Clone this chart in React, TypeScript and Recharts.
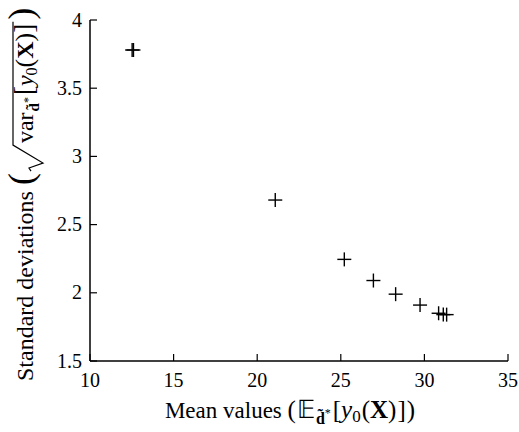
import React from 'react';
import { ScatterChart, Scatter, XAxis, YAxis, Label } from 'recharts';

const meanValues = [12.52, 12.6, 21.08, 25.21, 26.95, 28.28, 29.74, 30.85, 31.13, 31.33];
const stdDeviations = [3.78, 3.78, 2.68, 2.245, 2.09, 1.99, 1.91, 1.85, 1.84, 1.84];
const xTicks = [10, 15, 20, 25, 30, 35];
const yTicks = [1.5, 2, 2.5, 3, 3.5, 4];

const points = meanValues.map((x, i) => ({ x, y: stdDeviations[i] }));

const FAMILY = 'Liberation Serif';
const TICK = 7;

// measuring text pieces so the math labels can be laid out by hand
const ctx = typeof document !== 'undefined' ? document.createElement('canvas').getContext('2d') : null;

type Piece = { t: string; size: number; bold?: boolean; italic?: boolean; dv?: number; gap?: number };

const measure = (p: Piece) => {
  if (!ctx) return p.t.length * p.size * 0.5;
  ctx.font = `${p.italic ? 'italic ' : ''}${p.bold ? 'bold ' : ''}${p.size}px "${FAMILY}"`;
  return ctx.measureText(p.t).width;
};

const layout = (pieces: Piece[], start: number) => {
  let u = start;
  const els = pieces.map((p, i) => {
    u += p.gap || 0;
    const el = (
      <text
        key={i}
        x={u}
        y={p.dv || 0}
        fontSize={p.size}
        fontWeight={p.bold ? 'bold' : 'normal'}
        fontStyle={p.italic ? 'italic' : 'normal'}
        fill="#000"
        style={{ fontFamily: FAMILY, whiteSpace: 'pre' }}
      >
        {p.t}
      </text>
    );
    u += measure(p);
    return el;
  });
  return { els, end: u };
};

const width = (pieces: Piece[]) => pieces.reduce((s, p) => s + (p.gap || 0) + measure(p), 0);

const Plus = (props: any) => {
  const { cx, cy } = props;
  if (cx == null || cy == null) return null;
  return (
    <g stroke="#000" strokeWidth={1.4}>
      <line x1={cx - 7} y1={cy} x2={cx + 7} y2={cy} />
      <line x1={cx} y1={cy - 7} x2={cx} y2={cy + 7} />
    </g>
  );
};

const BottomTick = (props: any) => {
  const { x, y, payload } = props;
  return (
    <g>
      <line x1={x} y1={y} x2={x} y2={y - TICK} stroke="#000" strokeWidth={1.2} />
      <text x={x} y={y + 26} textAnchor="middle" fontSize={20} fill="#000" style={{ fontFamily: FAMILY }}>
        {payload.value}
      </text>
    </g>
  );
};

const LeftTick = (props: any) => {
  const { x, y, payload } = props;
  return (
    <g>
      <line x1={x} y1={y} x2={x + TICK} y2={y} stroke="#000" strokeWidth={1.2} />
      <text x={x - 8} y={y + 6.5} textAnchor="end" fontSize={20} fill="#000" style={{ fontFamily: FAMILY }}>
        {payload.value}
      </text>
    </g>
  );
};

const TopTick = (props: any) => {
  const { x, y } = props;
  return <line x1={x} y1={y} x2={x} y2={y + TICK} stroke="#000" strokeWidth={1.2} />;
};

const RightTick = (props: any) => {
  const { x, y } = props;
  return <line x1={x} y1={y} x2={x - TICK} y2={y} stroke="#000" strokeWidth={1.2} />;
};

const xLabelPieces: Piece[] = [
  { t: 'Mean values ', size: 23 },
  { t: '(', size: 25 },
  { t: '𝔼', size: 25, gap: 1 },
  { t: 'd̃', size: 16, bold: true, dv: 6, gap: 1 },
  { t: '*', size: 12, dv: -1 },
  { t: '[', size: 25, gap: 2 },
  { t: 'y', size: 25, italic: true },
  { t: '0', size: 17, dv: 4 },
  { t: '(', size: 25, gap: 1 },
  { t: 'X', size: 25, bold: true },
  { t: ')', size: 25 },
  { t: ']', size: 25, gap: 1 },
  { t: ')', size: 25, gap: 1 },
];

const XLabel = () => {
  const w = width(xLabelPieces);
  const { els } = layout(xLabelPieces, 290 - w / 2);
  return <g transform="translate(0, 418)">{els}</g>;
};

const yHead: Piece[] = [
  { t: 'Standard deviations ', size: 24 },
  { t: '(', size: 36 },
];
const yRadicand: Piece[] = [
  { t: 'var', size: 24 },
  { t: 'd̃', size: 15, bold: true, dv: 6, gap: 1 },
  { t: '*', size: 12, dv: -1 },
  { t: '[', size: 27, gap: 2 },
  { t: 'y', size: 24, italic: true },
  { t: '0', size: 16, dv: 4 },
  { t: '(', size: 26 },
  { t: 'X', size: 24, bold: true },
  { t: ')', size: 26 },
  { t: ']', size: 27 },
];
const yTail: Piece[] = [{ t: ')', size: 36, gap: 2 }];

const YLabel = () => {
  const head = layout(yHead, 0);
  const r0 = head.end + 2;
  const barStart = r0 + 26;
  const body = layout(yRadicand, barStart + 2);
  const barEnd = body.end + 2;
  const tail = layout(yTail, barEnd);
  return (
    <g transform="translate(33, 381) rotate(-90)">
      {head.els}
      <path
        d={`M ${r0} -2 L ${r0 + 3} -4 L ${r0 + 8} 10 L ${barStart} -20 L ${barEnd} -20`}
        fill="none"
        stroke="#000"
        strokeWidth={1.2}
      />
      {body.els}
      {tail.els}
    </g>
  );
};

export default function App() {
  return (
    <div style={{ position: 'absolute', left: 0, top: 0, background: '#fff' }}>
      <ScatterChart width={519} height={432} margin={{ top: 20, right: 11, left: 0, bottom: 0 }}>
        <XAxis
          xAxisId="b"
          dataKey="x"
          type="number"
          domain={[10, 35]}
          ticks={xTicks}
          height={71}
          tickSize={0}
          tickMargin={0}
          tick={<BottomTick />}
          axisLine={{ stroke: '#000', strokeWidth: 1.5 }}
          allowDataOverflow
        >
          <Label content={<XLabel />} />
        </XAxis>
        <XAxis
          xAxisId="t"
          orientation="top"
          type="number"
          domain={[10, 35]}
          ticks={xTicks}
          height={0}
          tickSize={0}
          tickMargin={0}
          tick={<TopTick />}
          axisLine={{ stroke: '#000', strokeWidth: 1.5 }}
          allowDataOverflow
        />
        <YAxis
          yAxisId="l"
          dataKey="y"
          type="number"
          domain={[1.5, 4]}
          ticks={yTicks}
          width={90}
          tickSize={0}
          tickMargin={0}
          tick={<LeftTick />}
          axisLine={{ stroke: '#000', strokeWidth: 1.5 }}
          allowDataOverflow
        >
          <Label content={<YLabel />} />
        </YAxis>
        <YAxis
          yAxisId="r"
          orientation="right"
          type="number"
          domain={[1.5, 4]}
          ticks={yTicks}
          width={0}
          tickSize={0}
          tickMargin={0}
          tick={<RightTick />}
          axisLine={{ stroke: '#000', strokeWidth: 1.5 }}
          allowDataOverflow
        />
        <Scatter
          xAxisId="b"
          yAxisId="l"
          data={points}
          shape={<Plus />}
          isAnimationActive={false}
        />
      </ScatterChart>
    </div>
  );
}
